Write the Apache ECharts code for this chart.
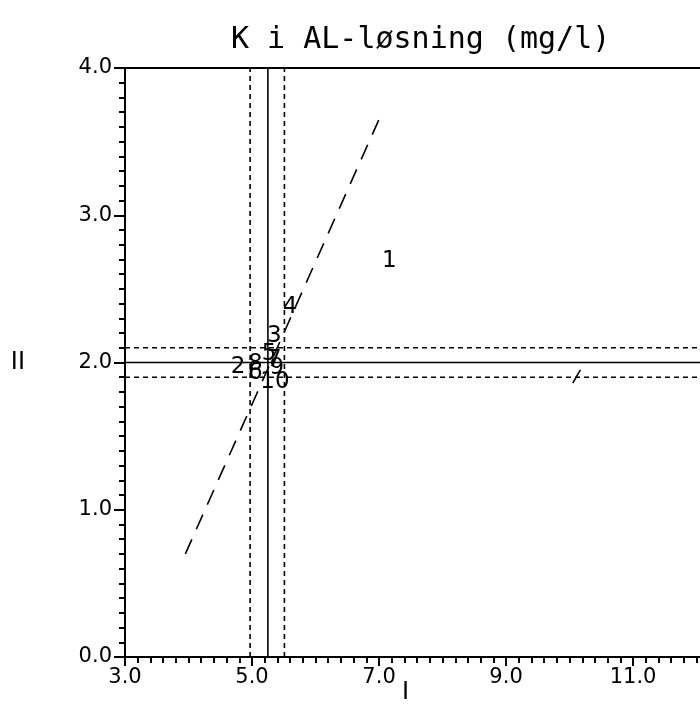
<!DOCTYPE html>
<html>
<head>
<meta charset="utf-8">
<script src="https://cdn.jsdelivr.net/npm/echarts@6/dist/echarts.min.js"></script>
<style>html,body{margin:0;padding:0;background:#fff;}#c{width:700px;height:720px;}</style>
</head>
<body>
<div id="c"></div>
<script>
// ---- data ----
const titleText = 'K i AL-løsning (mg/l)';
const xName = 'I';
const yName = 'II';
const xMin = 3, xMax = 12.4, xStep = 2;
const yMin = 0, yMax = 4, yStep = 1;
const labNames = ['1', '2', '3', '4', '5', '6', '7', '8', '9', '10'];
const labX = [7.16, 4.78, 5.35, 5.60, 5.27, 5.05, 5.35, 5.05, 5.39, 5.36];
const labY = [2.69, 1.97, 2.18, 2.38, 2.06, 1.93, 2.02, 1.99, 1.96, 1.87];
const medianX = 5.25;
const medianY = 2.00;
const limitsX = [4.97, 5.51];
const limitsY = [1.90, 2.10];
const diagX = [3.95, 7.05];
const diagY = [0.70, 3.70];
const markX = [10.05, 10.17];
const markY = [1.86, 1.95];

const mono = 'DejaVu Sans Mono';
const sans = 'DejaVu Sans';
const series = [];
function vline(x, dashed) {
  series.push({type: 'line', data: [[x, yMin], [x, yMax]], symbol: 'none', silent: true,
    lineStyle: {color: '#000', width: 1.6, type: dashed ? [5, 4] : 'solid'}});
}
function hline(y, dashed) {
  series.push({type: 'line', data: [[xMin, y], [xMax, y]], symbol: 'none', silent: true,
    lineStyle: {color: '#000', width: 1.6, type: dashed ? [5, 4] : 'solid'}});
}
vline(medianX, false); limitsX.forEach(v => vline(v, true));
hline(medianY, false); limitsY.forEach(v => hline(v, true));
series.push({type: 'line', data: diagX.map((x, i) => [x, diagY[i]]), symbol: 'none', silent: true,
  lineStyle: {color: '#000', width: 1.6, type: [16, 11]}});
series.push({type: 'line', data: markX.map((x, i) => [x, markY[i]]), symbol: 'none', silent: true,
  lineStyle: {color: '#000', width: 1.6}});
series.push({type: 'scatter', symbolSize: 1, itemStyle: {color: 'rgba(255,255,255,0)', opacity: 1},
  data: labNames.map((n, i) => ({name: n, value: [labX[i], labY[i]]})),
  label: {show: true, position: 'inside', formatter: p => p.name, color: '#000',
    textBorderWidth: 0, opacity: 1, fontFamily: sans, fontSize: 23}});

const chart = echarts.init(document.getElementById('c'), null, {renderer: 'canvas'});
chart.setOption({
  animation: false,
  backgroundColor: '#fff',
  title: {text: titleText, left: 226, top: 20,
    textStyle: {fontFamily: mono, fontSize: 30, fontWeight: 'normal', color: '#000'}},
  graphic: [{type: 'text', left: 402, top: 681,
    style: {text: xName, font: '24px "DejaVu Sans"', fill: '#000'}}],
  grid: {left: 125, top: 68, width: 597, height: 589, show: true, borderColor: '#000', borderWidth: 2,
    backgroundColor: 'transparent', containLabel: false, outerBoundsMode: 'none'},
  xAxis: {type: 'value', min: xMin, max: xMax, interval: xStep,
    axisLine: {show: true, lineStyle: {color: '#000', width: 2}},
    axisTick: {show: true, length: 9, lineStyle: {color: '#000', width: 2}},
    minorTick: {show: true, splitNumber: 10, length: 6, lineStyle: {color: '#000', width: 2}},
    splitLine: {show: false}, minorSplitLine: {show: false},
    axisLabel: {fontFamily: sans, fontSize: 21, color: '#000', margin: 10,
      formatter: v => v.toFixed(1), showMaxLabel: false}},
  yAxis: {type: 'value', min: yMin, max: yMax, interval: yStep,
    name: yName, nameLocation: 'middle', nameGap: 100, nameRotate: 0,
    nameTextStyle: {fontFamily: sans, fontSize: 24, color: '#000'},
    axisLine: {show: true, lineStyle: {color: '#000', width: 2}},
    axisTick: {show: true, length: 11, lineStyle: {color: '#000', width: 2}},
    minorTick: {show: true, splitNumber: 10, length: 6, lineStyle: {color: '#000', width: 2}},
    splitLine: {show: false}, minorSplitLine: {show: false},
    axisLabel: {fontFamily: sans, fontSize: 21, color: '#000', margin: 13,
      formatter: v => v.toFixed(1)}},
  series: series
});
</script>
</body>
</html>
